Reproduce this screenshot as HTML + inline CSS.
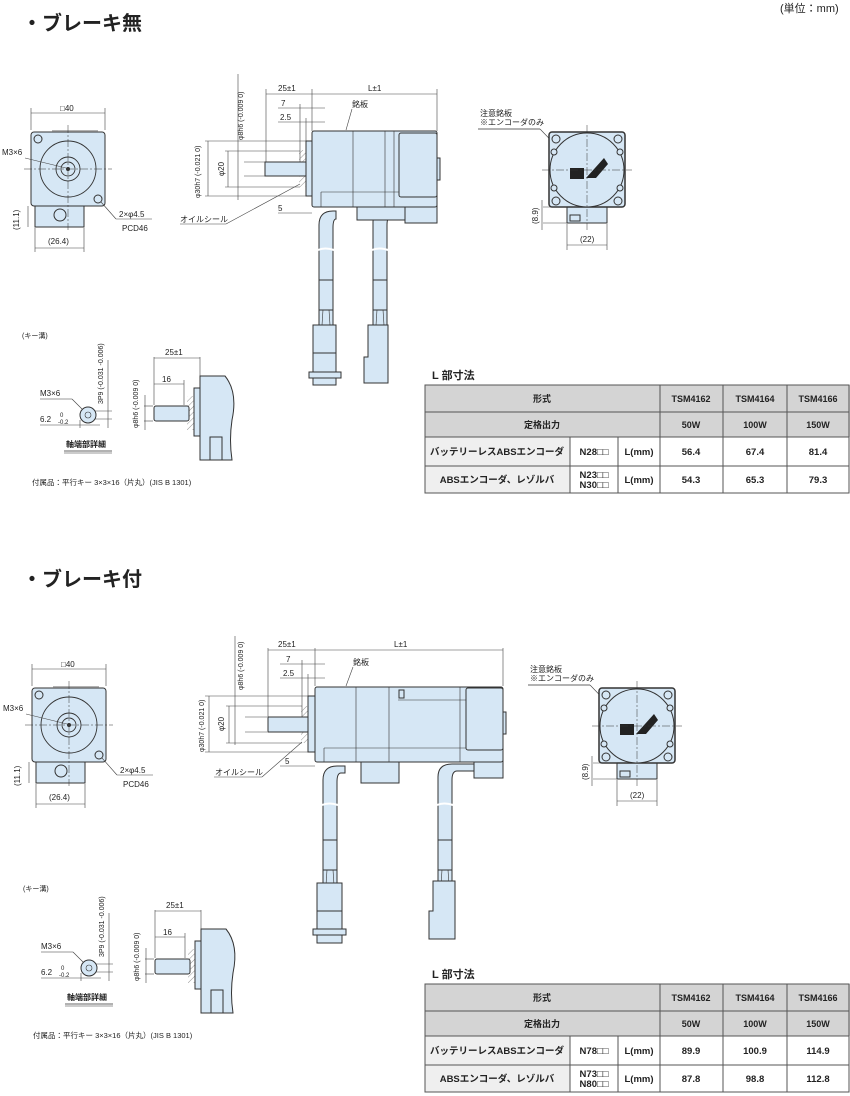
<!DOCTYPE html>
<html><head><meta charset="utf-8"><style>
html,body{margin:0;padding:0;background:#fff}
svg{display:block}
text{font-family:"Liberation Sans","Noto Sans CJK JP",sans-serif;fill:#222}
.t{font-size:8px}
.b{fill:#d6e7f5;stroke:#333;stroke-width:1}
.l{stroke:#444;stroke-width:.6;fill:none}
.g{stroke:#999;stroke-width:1.5;fill:none}
.c{stroke:#333;stroke-width:.5;stroke-dasharray:8 2 2 2;fill:none}
.th{fill:#d4d4d4}
.tb{font-size:9px;font-weight:bold}
.bd text{font-size:9.5px;font-weight:bold}
.w{stroke:#fff;stroke-width:2;fill:none}
</style></head><body>
<svg width="850" height="1096" viewBox="0 0 850 1096" xmlns="http://www.w3.org/2000/svg">
<defs>
<pattern id="h" width="4" height="4" patternUnits="userSpaceOnUse" patternTransform="rotate(45)"><line x1="0" y1="0" x2="0" y2="4" stroke="#777" stroke-width=".8"/></pattern>
</defs>
<text x="780" y="12" style="font-size:11px">(単位：mm)</text>
<text x="22" y="30" style="font-size:20px;font-weight:bold">・ブレーキ無</text>
<text x="22" y="586" style="font-size:20px;font-weight:bold">・ブレーキ付</text>

<g id="fv">
<rect class="b" x="35" y="206" width="49" height="21"/>
<circle class="l" cx="60" cy="215" r="6" style="stroke:#333;stroke-width:1"/>
<rect class="b" x="31" y="132" width="74" height="74" rx="3"/>
<line class="g" x1="52" y1="131" x2="98" y2="131"/>
<circle class="l" cx="68" cy="169" r="28" style="stroke:#333;stroke-width:.9"/>
<circle class="l" cx="68" cy="169" r="12" style="stroke:#333;stroke-width:.9"/>
<circle class="l" cx="68" cy="169" r="7" style="stroke:#333;stroke-width:.9"/>
<circle cx="68" cy="169" r="2" fill="#333"/>
<circle class="b" cx="38" cy="139" r="4"/>
<circle class="b" cx="98" cy="199" r="4"/>
<line class="c" x1="68" y1="125" x2="68" y2="230"/>
<line class="c" x1="24" y1="169" x2="112" y2="169"/>
<line class="l" x1="31" y1="113" x2="105" y2="113"/><line class="l" x1="31" y1="108" x2="31" y2="130"/><line class="l" x1="105" y1="108" x2="105" y2="130"/>
<text class="t" x="60" y="111">□40</text>
<text class="t" x="2" y="155">M3×6</text>
<line class="l" x1="25" y1="158" x2="66" y2="168"/>
<line class="l" x1="101" y1="202" x2="116" y2="219"/><line class="l" x1="116" y1="219" x2="152" y2="219"/>
<text class="t" x="119" y="217">2×φ4.5</text>
<text class="t" x="122" y="231">PCD46</text>
<line class="l" x1="35" y1="248" x2="84" y2="248"/><line class="l" x1="35" y1="228" x2="35" y2="252"/><line class="l" x1="84" y1="228" x2="84" y2="252"/>
<text class="t" x="48" y="244">(26.4)</text>
<line class="l" x1="28" y1="206" x2="28" y2="227"/>
<text class="t" transform="translate(19,230) rotate(-90)">(11.1)</text>
</g>
<use href="#fv" transform="translate(1,556)"/>

<g>
<line class="l" x1="238" y1="74" x2="238" y2="200"/>
<text class="t" style="font-size:7px" transform="translate(243,140) rotate(-90)">φ8h6 (-0.009 0)</text>
<line class="l" x1="266" y1="89" x2="266" y2="162"/><line class="l" x1="312" y1="89" x2="312" y2="131"/><line class="l" x1="437" y1="89" x2="437" y2="131"/>
<line class="l" x1="266" y1="94" x2="437" y2="94"/>
<text class="t" x="278" y="91">25±1</text><text class="t" x="368" y="91">L±1</text>
<line class="l" x1="278" y1="108" x2="325" y2="108"/><line class="l" x1="300" y1="104" x2="300" y2="162"/><text class="t" x="281" y="106">7</text>
<line class="l" x1="278" y1="122" x2="325" y2="122"/><line class="l" x1="306" y1="118" x2="306" y2="141"/><text class="t" x="280" y="120">2.5</text>
<line class="l" x1="278" y1="213" x2="312" y2="213"/><text class="t" x="278" y="211">5</text>
<line class="l" x1="205" y1="141" x2="306" y2="141"/><line class="l" x1="205" y1="196" x2="306" y2="196"/><line class="l" x1="208" y1="141" x2="208" y2="196"/>
<text class="t" style="font-size:7px" transform="translate(200,198) rotate(-90)">φ30h7 (-0.021 0)</text>
<line class="l" x1="225" y1="151" x2="300" y2="151"/><line class="l" x1="225" y1="187" x2="300" y2="187"/><line class="l" x1="228" y1="151" x2="228" y2="187"/>
<text class="t" transform="translate(224,176) rotate(-90)">φ20</text>
<line class="l" x1="244" y1="162" x2="265" y2="162"/><line class="l" x1="244" y1="176" x2="265" y2="176"/>
<text class="t" x="180" y="222">オイルシール</text>
<line class="l" x1="180" y1="224" x2="226" y2="224"/><line class="l" x1="226" y1="224" x2="300" y2="184"/>
<text class="t" x="352" y="107">銘板</text><line class="l" x1="352" y1="109" x2="346" y2="130"/>
<rect x="299" y="150" width="7" height="37" fill="url(#h)"/>
<rect class="b" x="265" y="162" width="41" height="14"/>
<rect class="b" x="306" y="141" width="6" height="55"/>
<path class="b" d="M319 330 V225 Q319 211 333 211 H336 V219 H336 Q333 219 333 228 V330 Z"/>
<path class="b" d="M373 330 V222 Q373 209 387 209 H415 V216 H392 Q387 216 387 225 V330 Z"/>
<path class="w" d="M318 250 q7 -3 16 0 M372 250 q7 -3 16 0"/>
<rect class="b" x="357" y="206" width="68" height="14"/>
<rect class="b" x="405" y="205" width="32" height="18"/>
<rect class="b" x="312" y="131" width="125" height="76" rx="2"/>
<line class="l" x1="353" y1="131" x2="353" y2="207" style="stroke:#333"/>
<line class="l" x1="385" y1="131" x2="385" y2="207" style="stroke:#333"/>
<line class="l" x1="394" y1="131" x2="394" y2="207" style="stroke:#333"/>
<rect class="b" x="399" y="133" width="38" height="64" rx="2"/>
<line class="l" x1="321" y1="192" x2="399" y2="192" style="stroke:#333"/>
<line class="l" x1="321" y1="192" x2="321" y2="207" style="stroke:#333"/>
<rect class="b" x="437" y="158" width="3" height="22"/>
<rect class="b" x="319" y="280" width="14" height="30"/>
<rect class="b" x="373" y="280" width="14" height="30"/>
<line class="l" x1="323" y1="310" x2="322" y2="325" style="stroke:#333"/><line class="l" x1="329" y1="310" x2="330" y2="325" style="stroke:#333"/>
<line class="l" x1="377" y1="310" x2="376" y2="325" style="stroke:#333"/><line class="l" x1="383" y1="310" x2="384" y2="325" style="stroke:#333"/>
<rect class="b" x="313" y="325" width="23" height="28"/>
<rect class="b" x="313" y="353" width="23" height="20"/>
<rect class="b" x="309" y="372" width="32" height="6"/>
<rect class="b" x="313" y="378" width="23" height="7"/>
<path class="b" d="M368 325 H388 V383 H364 V357 H368 Z"/>
</g>

<g id="rv">
<text class="t" x="480" y="116">注意銘板</text>
<text class="t" x="480" y="125">※エンコーダのみ</text>
<line class="g" x1="478" y1="129" x2="540" y2="129"/><line class="l" x1="540" y1="129" x2="570" y2="160"/>
<rect class="b" x="567" y="207" width="40" height="16"/>
<rect class="b" x="570" y="215" width="10" height="6"/>
<rect class="b" x="549" y="132" width="76" height="75" rx="3" style="stroke-width:1.5"/>
<circle class="b" cx="587" cy="170" r="37"/>
<circle class="b" cx="556" cy="139" r="4"/><circle class="b" cx="618" cy="139" r="4"/>
<circle class="b" cx="556" cy="201" r="4"/><circle class="b" cx="618" cy="201" r="4"/>
<circle class="b" cx="554" cy="152" r="3"/><circle class="b" cx="620" cy="152" r="3"/>
<circle class="b" cx="554" cy="188" r="3"/><circle class="b" cx="620" cy="188" r="3"/>
<rect x="570" y="168" width="14" height="11" fill="#222"/>
<path d="M586 178 L604 158 L608 164 L596 178 Z" fill="#222"/>
<line class="c" x1="587" y1="125" x2="587" y2="230"/><line class="c" x1="542" y1="170" x2="632" y2="170"/>
<line class="l" x1="543" y1="207" x2="567" y2="207"/><line class="l" x1="543" y1="223" x2="567" y2="223"/><line class="l" x1="542" y1="200" x2="542" y2="230"/>
<text class="t" transform="translate(538,224) rotate(-90)">(8.9)</text>
<line class="l" x1="567" y1="224" x2="567" y2="250"/><line class="l" x1="607" y1="224" x2="607" y2="250"/><line class="l" x1="567" y1="245" x2="607" y2="245"/>
<text class="t" x="580" y="242">(22)</text>
</g>

<g id="kd">
<text class="t" style="font-size:7px" x="22" y="338">(キー溝)</text>
<text class="t" x="40" y="396">M3×6</text>
<line class="g" x1="40" y1="399" x2="72" y2="399" style="stroke-width:1"/><line class="l" x1="72" y1="399" x2="86" y2="413"/>
<circle class="b" cx="88" cy="415" r="8"/><circle class="l" cx="88" cy="415" r="3" style="stroke:#333"/>
<line class="l" x1="95" y1="411" x2="112" y2="411"/><line class="l" x1="95" y1="419" x2="112" y2="419"/><line class="l" x1="108" y1="360" x2="108" y2="428"/>
<text class="t" style="font-size:7px" transform="translate(103,404) rotate(-90)">3P9 (-0.031 -0.006)</text>
<text class="t" x="40" y="422">6.2</text><text class="t" style="font-size:6px" x="60" y="417">0</text><text class="t" style="font-size:6px" x="58" y="424">-0.2</text>
<line class="l" x1="40" y1="425" x2="100" y2="425"/><line class="l" x1="80" y1="420" x2="80" y2="428"/>
<text class="tb" style="font-size:8px" x="66" y="447">軸端部詳細</text>
<line class="l" x1="64" y1="451" x2="112" y2="451" style="stroke:#333;stroke-width:.8"/><line class="l" x1="64" y1="453" x2="112" y2="453" style="stroke:#333;stroke-width:.6"/>
<line class="l" x1="154" y1="357" x2="154" y2="405"/><line class="l" x1="200" y1="357" x2="200" y2="377"/><line class="l" x1="154" y1="358" x2="200" y2="358"/>
<text class="t" x="165" y="355">25±1</text>
<line class="l" x1="154" y1="384" x2="184" y2="384"/><line class="l" x1="184" y1="380" x2="184" y2="405"/><text class="t" x="162" y="382">16</text>
<line class="l" x1="144" y1="406" x2="153" y2="406"/><line class="l" x1="144" y1="421" x2="153" y2="421"/><line class="l" x1="145" y1="395" x2="145" y2="430"/>
<text class="t" style="font-size:7px" transform="translate(138,428) rotate(-90)">φ8h6 (-0.009 0)</text>
<rect x="187" y="396" width="7" height="34" fill="url(#h)"/>
<rect class="b" x="154" y="406" width="35" height="15" rx="2"/>
<rect class="b" x="194" y="388" width="7" height="48"/>
<path class="b" d="M200 376 H225 Q238 392 232 420 Q229 440 232 460 H200 Z"/>
<rect class="b" x="210" y="437" width="12" height="23"/>
<text class="t" style="font-size:7.5px" x="32" y="485">付属品：平行キー 3×3×16（片丸）(JIS B 1301)</text>
</g>
<use href="#kd" transform="translate(1,553)"/>

<g>
<line class="l" x1="235" y1="636" x2="235" y2="745"/>
<text class="t" style="font-size:7px" transform="translate(243,690) rotate(-90)">φ8h6 (-0.009 0)</text>
<line class="l" x1="268" y1="648" x2="268" y2="718"/><line class="l" x1="315" y1="648" x2="315" y2="686"/><line class="l" x1="503" y1="648" x2="503" y2="686"/>
<line class="l" x1="268" y1="650" x2="503" y2="650"/>
<text class="t" x="278" y="647">25±1</text><text class="t" x="394" y="647">L±1</text>
<line class="l" x1="280" y1="664" x2="325" y2="664"/><line class="l" x1="302" y1="660" x2="302" y2="718"/><text class="t" x="286" y="662">7</text>
<line class="l" x1="280" y1="678" x2="325" y2="678"/><line class="l" x1="308" y1="674" x2="308" y2="696"/><text class="t" x="283" y="676">2.5</text>
<line class="l" x1="280" y1="766" x2="315" y2="766"/><text class="t" x="285" y="764">5</text>
<line class="l" x1="205" y1="696" x2="308" y2="696"/><line class="l" x1="205" y1="752" x2="308" y2="752"/><line class="l" x1="209" y1="696" x2="209" y2="752"/>
<text class="t" style="font-size:7px" transform="translate(204,752) rotate(-90)">φ30h7 (-0.021 0)</text>
<line class="l" x1="226" y1="706" x2="302" y2="706"/><line class="l" x1="226" y1="743" x2="302" y2="743"/><line class="l" x1="229" y1="706" x2="229" y2="743"/>
<text class="t" transform="translate(224,731) rotate(-90)">φ20</text>
<line class="l" x1="245" y1="717" x2="267" y2="717"/><line class="l" x1="245" y1="732" x2="267" y2="732"/>
<text class="t" x="215" y="775">オイルシール</text>
<line class="l" x1="214" y1="777" x2="262" y2="777"/><line class="l" x1="262" y1="777" x2="302" y2="742"/>
<text class="t" x="353" y="665">銘板</text><line class="l" x1="353" y1="667" x2="346" y2="686"/>
<rect x="301" y="706" width="7" height="37" fill="url(#h)"/>
<rect class="b" x="268" y="717" width="40" height="15"/>
<rect class="b" x="308" y="696" width="7" height="56"/>
<path class="b" d="M323 885 V780 Q323 766 337 766 H345 V773 H341 Q337 773 337 782 V885 Z"/>
<path class="b" d="M438 885 V777 Q438 764 452 764 H487 V771 H457 Q452 771 452 780 V885 Z"/>
<path class="w" d="M322 805 q7 -3 16 0 M437 805 q7 -3 16 0"/>
<rect class="b" x="361" y="760" width="38" height="23"/>
<rect class="b" x="474" y="760" width="29" height="18"/>
<rect class="b" x="315" y="687" width="188" height="75" rx="2"/>
<line class="l" x1="356" y1="687" x2="356" y2="762" style="stroke:#333"/>
<line class="l" x1="389" y1="687" x2="389" y2="762" style="stroke:#333"/>
<line class="l" x1="460" y1="687" x2="460" y2="762" style="stroke:#333"/>
<rect class="b" x="466" y="688" width="37" height="62" rx="2"/>
<line class="l" x1="324" y1="748" x2="466" y2="748" style="stroke:#333"/>
<line class="l" x1="324" y1="748" x2="324" y2="762" style="stroke:#333"/>
<line class="l" x1="398" y1="700" x2="466" y2="700" style="stroke:#333"/>
<rect class="b" x="399" y="690" width="5" height="8"/>
<rect class="b" x="503" y="712" width="3" height="22"/>
<rect class="b" x="323" y="840" width="14" height="30"/>
<rect class="b" x="438" y="840" width="14" height="30"/>
<line class="l" x1="327" y1="870" x2="326" y2="885" style="stroke:#333"/><line class="l" x1="333" y1="870" x2="334" y2="885" style="stroke:#333"/>
<line class="l" x1="442" y1="870" x2="441" y2="885" style="stroke:#333"/><line class="l" x1="448" y1="870" x2="449" y2="885" style="stroke:#333"/>
<rect class="b" x="317" y="883" width="25" height="28"/>
<rect class="b" x="317" y="911" width="25" height="19"/>
<rect class="b" x="313" y="929" width="33" height="6"/>
<rect class="b" x="317" y="935" width="25" height="8"/>
<path class="b" d="M433 881 H455 V939 H429 V911 H433 Z"/>
</g>
<use href="#rv" transform="translate(50,556)"/>

<g id="tb">
<text x="432" y="379" style="font-size:11px;font-weight:bold">L 部寸法</text>
<rect class="th" x="425" y="385" width="425" height="52"/>
<rect x="425" y="437" width="145" height="56" fill="#efefef"/>
<g stroke="#555" stroke-width="1" fill="none">
<rect x="425" y="385" width="424" height="108"/>
<line x1="425" y1="412" x2="849" y2="412"/><line x1="425" y1="437" x2="849" y2="437"/><line x1="425" y1="466" x2="849" y2="466"/>
<line x1="570" y1="437" x2="570" y2="493"/><line x1="618" y1="437" x2="618" y2="493"/>
<line x1="660" y1="385" x2="660" y2="493"/><line x1="723" y1="385" x2="723" y2="493"/><line x1="787" y1="385" x2="787" y2="493"/>
</g>
<g text-anchor="middle">
<text class="tb" x="542" y="402">形式</text>
<text class="tb" x="691" y="402">TSM4162</text><text class="tb" x="755" y="402">TSM4164</text><text class="tb" x="818" y="402">TSM4166</text>
<text class="tb" x="542" y="428">定格出力</text>
<text class="tb" x="691" y="428">50W</text><text class="tb" x="755" y="428">100W</text><text class="tb" x="818" y="428">150W</text>
</g>
</g>
<g class="bd" text-anchor="middle">
<text x="497" y="455">バッテリーレスABSエンコーダ</text>
<text x="594" y="455">N28□□</text>
<text x="639" y="455">L(mm)</text>
<text x="691" y="455">56.4</text><text x="755" y="455">67.4</text><text x="818" y="455">81.4</text>
<text x="497" y="483">ABSエンコーダ、レゾルバ</text>
<text x="594" y="478">N23□□</text><text x="594" y="488">N30□□</text>
<text x="639" y="483">L(mm)</text>
<text x="691" y="483">54.3</text><text x="755" y="483">65.3</text><text x="818" y="483">79.3</text>
</g>
<use href="#tb" transform="translate(0,599)"/>
<g class="bd" text-anchor="middle">
<text x="497" y="1054">バッテリーレスABSエンコーダ</text>
<text x="594" y="1054">N78□□</text>
<text x="639" y="1054">L(mm)</text>
<text x="691" y="1054">89.9</text><text x="755" y="1054">100.9</text><text x="818" y="1054">114.9</text>
<text x="497" y="1082">ABSエンコーダ、レゾルバ</text>
<text x="594" y="1077">N73□□</text><text x="594" y="1087">N80□□</text>
<text x="639" y="1082">L(mm)</text>
<text x="691" y="1082">87.8</text><text x="755" y="1082">98.8</text><text x="818" y="1082">112.8</text>
</g>
</svg>
</body></html>
